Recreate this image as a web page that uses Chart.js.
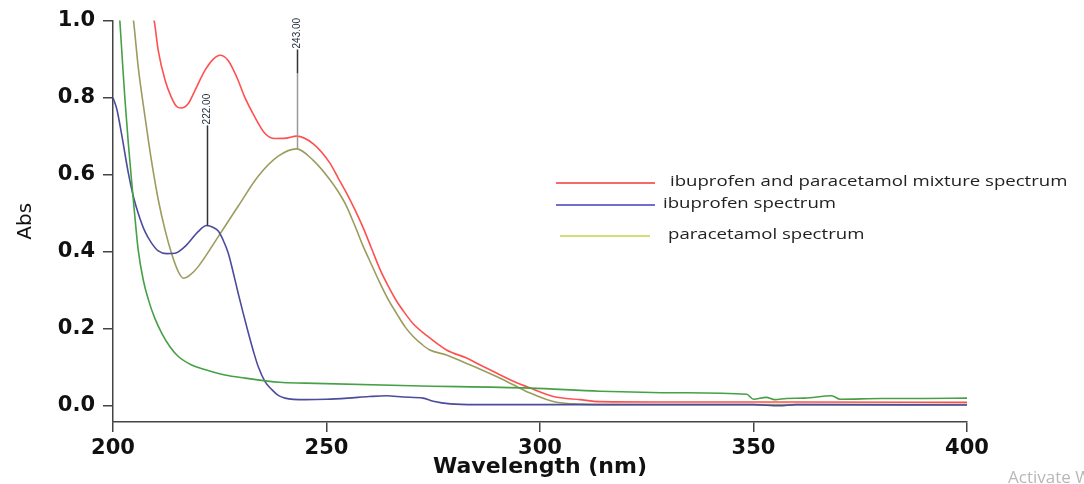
<!DOCTYPE html>
<html>
<head>
<meta charset="utf-8">
<title>UV spectra</title>
<script src="https://cdn.jsdelivr.net/npm/chart.js@4.4.1/dist/chart.umd.min.js"></script>
<style>
  html, body { margin: 0; padding: 0; background: #fff; }
  #wrap { width: 1084px; height: 484px; position: relative; }
</style>
</head>
<body>
<div id="wrap"><canvas id="spectra"></canvas></div>
<script>
// mixture spectrum (red)
const mixWl  = [207, 208.4, 209.7, 210.6, 212.2, 213.7, 214.9, 215.9, 217.6, 219.2, 221.5, 223.5, 225.1, 227, 229, 230.9, 233.2, 235.6, 237.9, 240.5, 243, 246.9, 250.8, 252.8, 254.7, 256.7, 258.6, 260.6, 262.5, 264.5, 266.4, 268.4, 270.3, 273.5, 278.1, 282.8, 286, 289.8, 293.5, 297.7, 303.1, 309.4, 314, 330, 360, 400];
const mixAbs = [1.15, 1.06, 0.996, 0.922, 0.845, 0.80, 0.777, 0.773, 0.784, 0.819, 0.87, 0.90, 0.91, 0.896, 0.853, 0.80, 0.75, 0.707, 0.694, 0.695, 0.70, 0.68, 0.63, 0.59, 0.552, 0.508, 0.462, 0.407, 0.355, 0.31, 0.272, 0.24, 0.213, 0.182, 0.145, 0.124, 0.106, 0.085, 0.065, 0.046, 0.024, 0.016, 0.011, 0.010, 0.010, 0.009];

// paracetamol spectrum (olive)
const paraWl  = [203.5, 204.8, 205.9, 207.5, 209, 210.6, 212.2, 213.7, 215.3, 216.5, 218, 220, 224.7, 229.3, 234, 238.7, 243, 246.9, 250.8, 252.8, 254.7, 256.7, 258.6, 260.6, 262.5, 264.5, 266.4, 268.4, 270.3, 272.3, 274.2, 278.1, 282.8, 286, 289.8, 293.5, 297.7, 303.1, 307.7, 315, 400];
const paraAbs = [1.09, 1.0, 0.88, 0.75, 0.637, 0.535, 0.456, 0.396, 0.348, 0.331, 0.339, 0.362, 0.44, 0.518, 0.596, 0.648, 0.667, 0.637, 0.587, 0.555, 0.518, 0.466, 0.414, 0.365, 0.319, 0.275, 0.24, 0.205, 0.18, 0.16, 0.145, 0.132, 0.11, 0.095, 0.076, 0.056, 0.033, 0.011, 0.005, 0.003, 0.003];

// ibuprofen spectrum (blue)
const ibuWl  = [200, 200.9, 202, 203.6, 204.8, 205.9, 207.5, 209, 210.6, 212.6, 214.5, 216.9, 220, 221.9, 223.5, 224.7, 225.8, 227, 228.2, 229.3, 230.5, 231.7, 232.9, 234, 235.6, 237.2, 238.7, 240.3, 245, 250, 255, 260, 264, 268, 272.6, 275, 279, 285, 320, 350, 356, 360, 400];
const ibuAbs = [0.80, 0.770, 0.706, 0.604, 0.542, 0.50, 0.452, 0.423, 0.402, 0.395, 0.396, 0.414, 0.453, 0.468, 0.463, 0.453, 0.43, 0.396, 0.344, 0.293, 0.24, 0.189, 0.141, 0.102, 0.063, 0.042, 0.027, 0.020, 0.016, 0.017, 0.020, 0.024, 0.026, 0.023, 0.020, 0.012, 0.005, 0.003, 0.003, 0.003, 0.000, 0.003, 0.002];

// unlabelled trace (green)
const solvWl  = [201, 201.6, 202.2, 202.8, 203.6, 204.4, 205.2, 205.9, 207.1, 208.3, 209.8, 211.4, 213.3, 215.3, 218.4, 221.5, 226.2, 230.9, 239, 245, 270, 297.7, 314, 332.8, 348.4, 350, 353, 355, 357.7, 362, 368.3, 370.3, 380, 390, 400];
const solvAbs = [1.1, 1.0, 0.896, 0.795, 0.68, 0.578, 0.482, 0.405, 0.326, 0.275, 0.227, 0.189, 0.154, 0.128, 0.106, 0.094, 0.080, 0.072, 0.061, 0.059, 0.052, 0.046, 0.038, 0.034, 0.030, 0.017, 0.022, 0.016, 0.019, 0.020, 0.026, 0.017, 0.019, 0.019, 0.020];

// axis ticks
const xTicks = [200, 250, 300, 350, 400];
const yTicks = [0.0, 0.2, 0.4, 0.6, 0.8, 1.0];

// peak picks
const peakWl     = [222, 243];
const peakBase   = [0.468, 0.667];
const peakTop    = [0.728, 0.925];
const peakDarkTo = [0.468, 0.863];
const peakLabels = ['222.00', '243.00'];

// legend
const legendNames  = ['ibuprofen and paracetamol mixture spectrum', 'ibuprofen spectrum', 'paracetamol spectrum'];
const legendColors = ['#f46a6a', '#6f6fd0', '#cfe27a'];

function toPoints(xs, ys) {
    return xs.map((x, i) => ({ x: x, y: ys[i] }));
}

function lineSet(label, xs, ys, color) {
    return {
        label: label,
        data: toPoints(xs, ys),
        borderColor: color,
        borderWidth: 1.6,
        pointRadius: 0,
        fill: false,
        cubicInterpolationMode: 'monotone'
    };
}

// peak markers with rotated labels
const peakPlugin = {
    id: 'peaks',
    afterDatasetsDraw(chart) {
        const ctx = chart.ctx;
        const xs = chart.scales.x, ys = chart.scales.y;
        ctx.save();
        peakWl.forEach((wl, i) => {
            const px = Math.round(xs.getPixelForValue(wl)) + 0.5;
            const yBase = ys.getPixelForValue(peakBase[i]);
            const yTop = ys.getPixelForValue(peakTop[i]);
            const yDark = ys.getPixelForValue(peakDarkTo[i]);
            ctx.lineWidth = 1.5;
            ctx.strokeStyle = '#9a9a9a';
            ctx.beginPath(); ctx.moveTo(px, yBase); ctx.lineTo(px, yDark); ctx.stroke();
            ctx.strokeStyle = '#333';
            ctx.beginPath(); ctx.moveTo(px, yDark); ctx.lineTo(px, yTop); ctx.stroke();
            ctx.translate(px, yTop - 1);
            ctx.rotate(-Math.PI / 2);
            ctx.fillStyle = '#1d2836';
            ctx.font = '10px "Liberation Sans"';
            ctx.textAlign = 'left';
            ctx.textBaseline = 'middle';
            ctx.fillText(peakLabels[i], 0, 0);
            ctx.setTransform(1, 0, 0, 1, 0, 0);
        });
        ctx.restore();
    }
};

// legend drawn where the original has it
const legendPlugin = {
    id: 'sideLegend',
    afterDraw(chart) {
        const ctx = chart.ctx;
        const rows = [
            { y: 183, x0: 556, x1: 655, tx: 670 },
            { y: 205, x0: 556, x1: 655, tx: 663 },
            { y: 236, x0: 560, x1: 650, tx: 668 }
        ];
        ctx.save();
        rows.forEach((r, i) => {
            ctx.strokeStyle = legendColors[i];
            ctx.lineWidth = 1.8;
            ctx.beginPath(); ctx.moveTo(r.x0, r.y); ctx.lineTo(r.x1, r.y); ctx.stroke();
            ctx.save();
            ctx.translate(r.tx, r.y - 1);
            ctx.scale(1.24, 1);
            ctx.fillStyle = '#222';
            ctx.font = '15px "Open Sans"';
            ctx.textBaseline = 'middle';
            ctx.fillText(legendNames[i], 0, 0);
            ctx.restore();
        });
        // watermark in the corner of the screenshot
        ctx.fillStyle = '#b8b8b8';
        ctx.font = '17px "Open Sans"';
        ctx.textBaseline = 'middle';
        ctx.fillText('Activate Windows', 1008, 478);
        ctx.restore();
    }
};

function createSpectraChart() {
    const ctx = document.getElementById('spectra').getContext('2d');
    new Chart(ctx, {
        type: 'line',
        data: {
            datasets: [
                lineSet('solvent', solvWl, solvAbs, '#46a046'),
                lineSet('ibuprofen spectrum', ibuWl, ibuAbs, '#4c4c9c'),
                lineSet('paracetamol spectrum', paraWl, paraAbs, '#9c9c5e'),
                lineSet('ibuprofen and paracetamol mixture spectrum', mixWl, mixAbs, '#ff5050')
            ]
        },
        options: {
            responsive: true,
            maintainAspectRatio: false,
            animation: false,
            layout: { padding: { left: 0, top: 20, right: 117, bottom: 0 } },
            plugins: {
                legend: { display: false },
                tooltip: { enabled: false }
            },
            scales: {
                x: {
                    type: 'linear',
                    min: 200,
                    max: 400,
                    afterFit(scale) { scale.height = 62; },
                    afterBuildTicks(scale) { scale.ticks = xTicks.map(v => ({ value: v })); },
                    grid: { drawOnChartArea: false, drawTicks: true, tickLength: 10, color: '#444', lineWidth: 1.5 },
                    border: { display: true, color: '#444', width: 1.5 },
                    ticks: {
                        color: '#111',
                        padding: 4,
                        maxRotation: 0,
                        font: { family: 'DejaVu Sans', size: 21, weight: 'bold' }
                    },
                    title: {
                        display: true,
                        text: 'Wavelength (nm)',
                        color: '#111',
                        padding: { top: 0, bottom: 4 },
                        font: { family: 'DejaVu Sans', size: 22, weight: 'bold' }
                    }
                },
                y: {
                    min: -0.042,
                    max: 1.0,
                    afterFit(scale) { scale.width = 113; },
                    afterBuildTicks(scale) { scale.ticks = yTicks.map(v => ({ value: v })); },
                    grid: { drawOnChartArea: false, drawTicks: true, tickLength: 10, color: '#444', lineWidth: 1.5 },
                    border: { display: true, color: '#444', width: 1.5 },
                    ticks: {
                        color: '#111',
                        padding: 8,
                        font: { family: 'DejaVu Sans', size: 21, weight: 'bold' },
                        callback: v => v.toFixed(1)
                    },
                    title: {
                        display: true,
                        text: 'Abs',
                        color: '#111',
                        padding: { top: 14, bottom: 0 },
                        font: { family: 'DejaVu Sans', size: 20 }
                    }
                }
            }
        },
        plugins: [peakPlugin, legendPlugin]
    });
}

document.addEventListener('DOMContentLoaded', createSpectraChart);
</script>
</body>
</html>
